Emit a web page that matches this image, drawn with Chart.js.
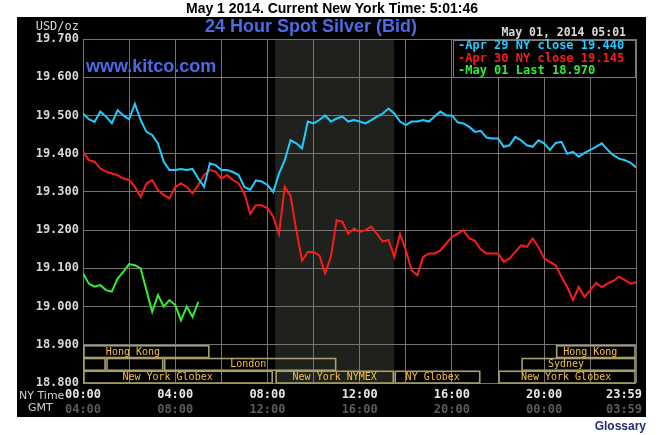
<!DOCTYPE html>
<html>
<head>
<meta charset="utf-8">
<script src="https://cdn.jsdelivr.net/npm/chart.js@4.4.1/dist/chart.umd.min.js"></script>
<style>
  html, body { margin: 0; padding: 0; background: #fff; }
  canvas { display: block; }
</style>
</head>
<body>
<canvas id="silverChart" width="668" height="435"></canvas>
<script>
// NY time, 15 minute steps
const times = [
  "00:00","00:15","00:30","00:45","01:00","01:15","01:30","01:45",
  "02:00","02:15","02:30","02:45","03:00","03:15","03:30","03:45",
  "04:00","04:15","04:30","04:45","05:00","05:15","05:30","05:45",
  "06:00","06:15","06:30","06:45","07:00","07:15","07:30","07:45",
  "08:00","08:15","08:30","08:45","09:00","09:15","09:30","09:45",
  "10:00","10:15","10:30","10:45","11:00","11:15","11:30","11:45",
  "12:00","12:15","12:30","12:45","13:00","13:15","13:30","13:45",
  "14:00","14:15","14:30","14:45","15:00","15:15","15:30","15:45",
  "16:00","16:15","16:30","16:45","17:00","17:15","17:30","17:45",
  "18:00","18:15","18:30","18:45","19:00","19:15","19:30","19:45",
  "20:00","20:15","20:30","20:45","21:00","21:15","21:30","21:45",
  "22:00","22:15","22:30","22:45","23:00","23:15","23:30","23:45",
  "23:59"
];

const apr29 = [
  19.505, 19.490, 19.483, 19.510, 19.497, 19.480, 19.514, 19.500,
  19.490, 19.530, 19.488, 19.457, 19.449, 19.427, 19.379, 19.357,
  19.357, 19.360, 19.357, 19.360, 19.335, 19.313, 19.375, 19.370,
  19.357, 19.357, 19.352, 19.344, 19.313, 19.305, 19.330, 19.327,
  19.318, 19.300, 19.348, 19.383, 19.435, 19.427, 19.414, 19.484,
  19.479, 19.488, 19.500, 19.484, 19.492, 19.497, 19.484, 19.488,
  19.484, 19.479, 19.488, 19.497, 19.505, 19.518, 19.505, 19.484,
  19.475, 19.484, 19.484, 19.488, 19.484, 19.497, 19.510, 19.500,
  19.500, 19.482, 19.479, 19.470, 19.457, 19.460, 19.442, 19.440,
  19.440, 19.418, 19.422, 19.444, 19.435, 19.422, 19.418, 19.435,
  19.427, 19.410, 19.428, 19.431, 19.400, 19.405, 19.392, 19.402,
  19.410, 19.418, 19.427, 19.410, 19.396, 19.387, 19.383, 19.376,
  19.364
];

const apr30 = [
  19.405, 19.383, 19.379, 19.361, 19.353, 19.348, 19.344, 19.335,
  19.331, 19.313, 19.287, 19.322, 19.331, 19.305, 19.292, 19.283,
  19.313, 19.322, 19.313, 19.296, 19.318, 19.344, 19.357, 19.353,
  19.335, 19.344, 19.331, 19.322, 19.296, 19.243, 19.265, 19.265,
  19.257, 19.235, 19.190, 19.313, 19.290, 19.200, 19.120, 19.143,
  19.143, 19.134, 19.087, 19.130, 19.226, 19.222, 19.190, 19.204,
  19.195, 19.200, 19.209, 19.190, 19.170, 19.174, 19.130, 19.190,
  19.147, 19.095, 19.082, 19.130, 19.139, 19.139, 19.147, 19.165,
  19.182, 19.191, 19.200, 19.178, 19.172, 19.149, 19.139, 19.139,
  19.139, 19.117, 19.126, 19.143, 19.160, 19.156, 19.178, 19.156,
  19.126, 19.117, 19.108, 19.078, 19.051, 19.017, 19.051, 19.025,
  19.043, 19.062, 19.051, 19.060, 19.067, 19.078, 19.069, 19.060,
  19.064
];

// today, up to 05:00
const may01 = [
  19.087, 19.060, 19.052, 19.056, 19.043, 19.039, 19.073, 19.091,
  19.111, 19.108, 19.100, 19.043, 18.986, 19.030, 19.000, 19.017,
  19.004, 18.964, 19.000, 18.973, 19.012
];

const gridHours = ["00:00","02:00","04:00","06:00","08:00","10:00","12:00",
                   "14:00","16:00","18:00","20:00","22:00","23:59"];
const nyLabels  = ["00:00","04:00","08:00","12:00","16:00","20:00","23:59"];
const gmtLabels = ["04:00","08:00","12:00","16:00","20:00","00:00","03:59"];

const nymexOpen = "08:20", nymexClose = "13:30";

// trading sessions, row 0 top .. row 2 bottom
const sessions = [
  { row: 0, from: "00:00", to: "05:30", label: "Hong Kong", at: "02:10" },
  { row: 0, from: "20:30", to: "23:59", label: "Hong Kong", at: "22:00" },
  { row: 1, from: "00:00", to: "01:00", label: "", at: "00:30" },
  { row: 1, from: "01:00", to: "03:30", label: "", at: "02:15" },
  { row: 1, from: "03:30", to: "11:00", label: "London", at: "07:10" },
  { row: 1, from: "19:00", to: "23:59", label: "Sydney", at: "20:57" },
  { row: 2, from: "00:00", to: "08:15", label: "New York Globex", at: "03:40" },
  { row: 2, from: "08:20", to: "13:30", label: "New York NYMEX", at: "10:55" },
  { row: 2, from: "13:30", to: "17:15", label: "NY Globex", at: "15:10" },
  { row: 2, from: "18:00", to: "23:59", label: "New York Globex", at: "20:57" }
];

const legendItems = [
  { text: "-Apr 29 NY close 19.440", color: "#22ccff" },
  { text: "-Apr 30 NY close 19.145", color: "#ff1a1a" },
  { text: "-May 01 Last 18.970", color: "#33ee33" }
];

function toHours(s) {
  const [h, m] = s.split(":").map(Number);
  return h + m / 60;
}

function points(values) {
  return values.map((v, i) => ({ x: toHours(times[i]), y: v }));
}

const MONO = "'DejaVu Sans Mono', monospace";
const SANS = "'Liberation Sans', Arial, sans-serif";

const kitcoDecor = {
  id: "kitcoDecor",
  beforeDraw(chart) {
    const { ctx, chartArea: a, scales: { x } } = chart;
    ctx.save();
    ctx.fillStyle = "#ffffff";
    ctx.fillRect(0, 0, chart.width, chart.height);
    ctx.fillStyle = "#000000";
    ctx.fillRect(17, 17, 629, 400);
    // NYMEX hours shading
    const x1 = x.getPixelForValue(toHours(nymexOpen));
    const x2 = x.getPixelForValue(toHours(nymexClose));
    ctx.fillStyle = "#1e211c";
    ctx.fillRect(x1, a.top, x2 - x1, a.bottom - a.top);
    ctx.restore();
  },
  afterDraw(chart) {
    const { ctx, chartArea: a, scales: { x, y } } = chart;
    ctx.save();
    ctx.textBaseline = "middle";

    // sessions
    const rowH = 0.1 / 3;
    ctx.lineWidth = 1.6;
    ctx.strokeStyle = "#a89f6c";
    ctx.font = "10px " + MONO;
    ctx.fillStyle = "#f2c23a";
    ctx.textAlign = "center";
    sessions.forEach(s => {
      const top = 18.9 - s.row * rowH;
      const x1 = x.getPixelForValue(toHours(s.from));
      const x2 = x.getPixelForValue(toHours(s.to));
      const y1 = y.getPixelForValue(top);
      const y2 = y.getPixelForValue(top - rowH);
      ctx.strokeRect(x1 + 1, y1 + 1, x2 - x1 - 2, y2 - y1 - 1);
      if (s.label) {
        ctx.fillText(s.label, x.getPixelForValue(toHours(s.at)), (y1 + y2) / 2 + 1);
      }
    });

    // legend box
    const lx = 453, ly = a.top + 1, lw = a.right - 453, lh = 38;
    ctx.fillStyle = "#000";
    ctx.fillRect(lx, ly, lw, lh);
    ctx.strokeStyle = "#7a7a7a";
    ctx.lineWidth = 1;
    ctx.strokeRect(lx + 0.5, ly + 0.5, lw - 1, lh - 1);
    ctx.textAlign = "left";
    ctx.font = "bold 12px " + MONO;
    legendItems.forEach((it, i) => {
      ctx.fillStyle = it.color;
      ctx.fillText(it.text, 458, 46 + i * 12.5);
    });

    // x axis labels
    ctx.textAlign = "center";
    nyLabels.forEach((lab, i) => {
      let px = x.getPixelForValue(toHours(lab));
      if (i === nyLabels.length - 1) px -= 12;
      ctx.font = "bold 12px " + MONO;
      ctx.fillStyle = "#e6e6e6";
      ctx.fillText(lab, px, 395);
      ctx.fillStyle = "#5c5c5c";
      ctx.fillText(gmtLabels[i], px, 410);
    });
    ctx.font = "11px 'DejaVu Sans', sans-serif";
    ctx.fillStyle = "#d0d0d0";
    ctx.textAlign = "left";
    ctx.fillText("NY Time", 19, 396);
    ctx.fillText("GMT", 28, 408);

    // y unit, date
    ctx.textAlign = "right";
    ctx.font = "12px " + MONO;
    ctx.fillStyle = "#d8d8d8";
    ctx.fillText("USD/oz", 79, 27);
    ctx.font = "bold 11.5px " + MONO;
    ctx.fillStyle = "#dcdcdc";
    ctx.fillText("May 01, 2014 05:01", 626, 33);

    // titles
    ctx.textAlign = "center";
    ctx.font = "bold 14px " + SANS;
    ctx.fillStyle = "#000";
    ctx.fillText("May 1 2014. Current New York Time: 5:01:46", 332, 9);
    ctx.font = "bold 18px " + SANS;
    ctx.fillStyle = "#4b6be6";
    ctx.fillText("24 Hour Spot Silver (Bid)", 311, 27);
    ctx.textAlign = "left";
    ctx.fillText("www.kitco.com", 86, 67);

    ctx.textAlign = "right";
    ctx.font = "bold 12px " + SANS;
    ctx.fillStyle = "#1e2d78";
    ctx.fillText("Glossary", 646, 427);
    ctx.restore();
  }
};

document.addEventListener("DOMContentLoaded", () => {
  const ctx = document.getElementById("silverChart");

  const line = (data, color) => ({
    data: data,
    borderColor: color,
    borderWidth: 2,
    pointRadius: 0,
    tension: 0,
    fill: false
  });

  new Chart(ctx, {
    type: "line",
    data: {
      datasets: [
        line(points(apr29), "#22ccff"),
        line(points(apr30), "#ff1a1a"),
        line(points(may01), "#33ee33")
      ]
    },
    options: {
      responsive: false,
      animation: false,
      layout: { padding: { left: 17, top: 39, right: 32, bottom: 18 } },
      plugins: {
        legend: { display: false },
        tooltip: { enabled: false }
      },
      scales: {
        x: {
          type: "linear",
          min: 0,
          max: toHours("23:59"),
          afterBuildTicks: scale => {
            scale.ticks = gridHours.map(h => ({ value: toHours(h) }));
          },
          afterFit: scale => { scale.height = 34; },
          ticks: { display: false },
          grid: { color: "#747474", drawTicks: false },
          border: { display: false }
        },
        y: {
          min: 18.8,
          max: 19.7,
          afterFit: scale => { scale.width = 66; },
          ticks: {
            stepSize: 0.1,
            padding: 4,
            color: "#d8d8d8",
            font: { family: "'DejaVu Sans Mono'", size: 12, weight: "bold" },
            callback: v => v.toFixed(3)
          },
          grid: { color: "#747474", drawTicks: false },
          border: { display: false }
        }
      }
    },
    plugins: [kitcoDecor]
  });
});
</script>
</body>
</html>
